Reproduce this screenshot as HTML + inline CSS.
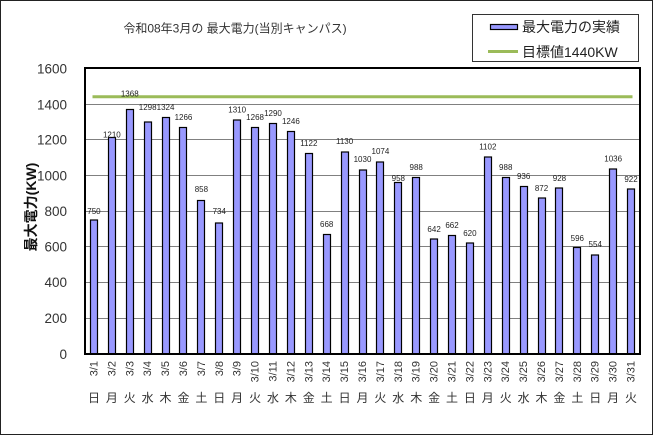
<!DOCTYPE html>
<html><head><meta charset="utf-8"><style>
html,body{margin:0;padding:0;background:#fff;}
svg{display:block;}
text{font-family:"Liberation Sans","Noto Sans CJK JP",sans-serif;}
</style></head><body>
<svg width="654" height="436" viewBox="0 0 654 436" xmlns="http://www.w3.org/2000/svg">
<rect x="0" y="0" width="654" height="436" fill="#fff"/>
<rect x="0.5" y="0.5" width="652" height="434" fill="#fff" stroke="#222" stroke-width="1"/>

<!-- title -->
<text x="235" y="32.5" font-size="12" fill="#333" text-anchor="middle">令和08年3月の 最大電力(当別キャンパス)</text>

<!-- legend -->
<rect x="472.5" y="14.5" width="166" height="47" fill="#fff" stroke="#333" stroke-width="1"/>
<rect x="490.5" y="24.5" width="27" height="5" fill="#9999ff" stroke="#000" stroke-width="1.2"/>
<text x="522" y="32" font-size="14" fill="#222">最大電力の実績</text>
<line x1="488" y1="51.5" x2="518" y2="51.5" stroke="#9bbb59" stroke-width="3"/>
<text x="522" y="57" font-size="14" fill="#222">目標値1440KW</text>

<!-- gridlines -->
<g stroke="#808080" stroke-width="1">
<line x1="85" y1="104.5" x2="640" y2="104.5"/>
<line x1="85" y1="139.5" x2="640" y2="139.5"/>
<line x1="85" y1="175.5" x2="640" y2="175.5"/>
<line x1="85" y1="211.5" x2="640" y2="211.5"/>
<line x1="85" y1="246.5" x2="640" y2="246.5"/>
<line x1="85" y1="282.5" x2="640" y2="282.5"/>
<line x1="85" y1="318.5" x2="640" y2="318.5"/>
</g>

<!-- y tick labels -->
<g font-size="13.5" fill="#333" text-anchor="end">
<text x="67" y="73.5">1600</text>
<text x="67" y="109.5">1400</text>
<text x="67" y="144.5">1200</text>
<text x="67" y="180.5">1000</text>
<text x="67" y="216">800</text>
<text x="67" y="251.5">600</text>
<text x="67" y="287">400</text>
<text x="67" y="323">200</text>
<text x="67" y="359">0</text>
</g>

<!-- y axis title -->
<text transform="translate(36,207) rotate(-90)" font-size="14" font-weight="bold" fill="#111" text-anchor="middle">最大電力(KW)</text>

<!-- bars -->
<g fill="#9999ff" stroke="#000" stroke-width="1.2">
<rect x="90.5" y="220" width="7" height="134"/>
<rect x="108.5" y="137.5" width="7" height="216.5"/>
<rect x="126.5" y="109.5" width="7" height="244.5"/>
<rect x="144.5" y="122" width="7" height="232"/>
<rect x="162.5" y="117.5" width="7" height="236.5"/>
<rect x="179.5" y="127.5" width="7" height="226.5"/>
<rect x="197.5" y="200.5" width="7" height="153.5"/>
<rect x="215.5" y="223" width="7" height="131"/>
<rect x="233.5" y="120" width="7" height="234"/>
<rect x="251.5" y="127.5" width="7" height="226.5"/>
<rect x="269.5" y="123.5" width="7" height="230.5"/>
<rect x="287.5" y="131.5" width="7" height="222.5"/>
<rect x="305.5" y="153.5" width="7" height="200.5"/>
<rect x="323.5" y="234.5" width="7" height="119.5"/>
<rect x="341.5" y="152" width="7" height="202"/>
<rect x="359.5" y="170" width="7" height="184"/>
<rect x="376.5" y="162" width="7" height="192"/>
<rect x="394.5" y="182.5" width="7" height="171.5"/>
<rect x="412.5" y="177.5" width="7" height="176.5"/>
<rect x="430.5" y="239" width="7" height="115"/>
<rect x="448.5" y="235.5" width="7" height="118.5"/>
<rect x="466.5" y="243" width="7" height="111"/>
<rect x="484.5" y="157" width="7" height="197"/>
<rect x="502.5" y="177.5" width="7" height="176.5"/>
<rect x="520.5" y="186.5" width="7" height="167.5"/>
<rect x="538.5" y="198" width="7" height="156"/>
<rect x="555.5" y="188" width="7" height="166"/>
<rect x="573.5" y="247.5" width="7" height="106.5"/>
<rect x="591.5" y="255" width="7" height="99"/>
<rect x="609.5" y="169" width="7" height="185"/>
<rect x="627.5" y="189" width="7" height="165"/>
</g>

<!-- target line -->
<line x1="92.5" y1="96.8" x2="632.5" y2="96.8" stroke="#9bbb59" stroke-width="3"/>

<!-- plot border -->
<rect x="85" y="68" width="555" height="286" fill="none" stroke="#000" stroke-width="2"/>

<!-- data labels -->
<g font-size="8" fill="#222" text-anchor="middle">
<text x="93.95" y="214">750</text>
<text x="111.85" y="137.5">1210</text>
<text x="129.76" y="96.5">1368</text>
<text x="147.66" y="110">1298</text>
<text x="165.56" y="110">1324</text>
<text x="183.47" y="120">1266</text>
<text x="201.37" y="192">858</text>
<text x="219.27" y="214">734</text>
<text x="237.18" y="112.5">1310</text>
<text x="255.08" y="120">1268</text>
<text x="272.98" y="116">1290</text>
<text x="290.89" y="124">1246</text>
<text x="308.79" y="146">1122</text>
<text x="326.69" y="227">668</text>
<text x="344.60" y="144">1130</text>
<text x="362.50" y="162">1030</text>
<text x="380.40" y="154">1074</text>
<text x="398.31" y="181">958</text>
<text x="416.21" y="170">988</text>
<text x="434.11" y="232">642</text>
<text x="452.02" y="228">662</text>
<text x="469.92" y="236">620</text>
<text x="487.82" y="149.5">1102</text>
<text x="505.73" y="170">988</text>
<text x="523.63" y="179">936</text>
<text x="541.53" y="191">872</text>
<text x="559.44" y="181">928</text>
<text x="577.34" y="241">596</text>
<text x="595.24" y="247">554</text>
<text x="613.15" y="161.5">1036</text>
<text x="631.05" y="182">922</text>
</g>

<!-- x labels (dates) -->
<g font-size="11" fill="#333" text-anchor="end">
<text transform="translate(97.5,361) rotate(-90)">3/1</text>
<text transform="translate(115.4,361) rotate(-90)">3/2</text>
<text transform="translate(133.3,361) rotate(-90)">3/3</text>
<text transform="translate(151.2,361) rotate(-90)">3/4</text>
<text transform="translate(169.1,361) rotate(-90)">3/5</text>
<text transform="translate(187,361) rotate(-90)">3/6</text>
<text transform="translate(204.9,361) rotate(-90)">3/7</text>
<text transform="translate(222.8,361) rotate(-90)">3/8</text>
<text transform="translate(240.7,361) rotate(-90)">3/9</text>
<text transform="translate(258.6,361) rotate(-90)">3/10</text>
<text transform="translate(276.5,361) rotate(-90)">3/11</text>
<text transform="translate(294.4,361) rotate(-90)">3/12</text>
<text transform="translate(312.3,361) rotate(-90)">3/13</text>
<text transform="translate(330.2,361) rotate(-90)">3/14</text>
<text transform="translate(348.1,361) rotate(-90)">3/15</text>
<text transform="translate(366,361) rotate(-90)">3/16</text>
<text transform="translate(383.9,361) rotate(-90)">3/17</text>
<text transform="translate(401.8,361) rotate(-90)">3/18</text>
<text transform="translate(419.7,361) rotate(-90)">3/19</text>
<text transform="translate(437.6,361) rotate(-90)">3/20</text>
<text transform="translate(455.5,361) rotate(-90)">3/21</text>
<text transform="translate(473.4,361) rotate(-90)">3/22</text>
<text transform="translate(491.3,361) rotate(-90)">3/23</text>
<text transform="translate(509.2,361) rotate(-90)">3/24</text>
<text transform="translate(527.1,361) rotate(-90)">3/25</text>
<text transform="translate(545,361) rotate(-90)">3/26</text>
<text transform="translate(562.9,361) rotate(-90)">3/27</text>
<text transform="translate(580.8,361) rotate(-90)">3/28</text>
<text transform="translate(598.7,361) rotate(-90)">3/29</text>
<text transform="translate(616.6,361) rotate(-90)">3/30</text>
<text transform="translate(634.5,361) rotate(-90)">3/31</text>
</g>

<!-- x labels (weekday) -->
<g font-size="12" fill="#333" text-anchor="middle">
<text x="93.95" y="402">日</text>
<text x="111.85" y="402">月</text>
<text x="129.76" y="402">火</text>
<text x="147.66" y="402">水</text>
<text x="165.56" y="402">木</text>
<text x="183.47" y="402">金</text>
<text x="201.37" y="402">土</text>
<text x="219.27" y="402">日</text>
<text x="237.18" y="402">月</text>
<text x="255.08" y="402">火</text>
<text x="272.98" y="402">水</text>
<text x="290.89" y="402">木</text>
<text x="308.79" y="402">金</text>
<text x="326.69" y="402">土</text>
<text x="344.60" y="402">日</text>
<text x="362.50" y="402">月</text>
<text x="380.40" y="402">火</text>
<text x="398.31" y="402">水</text>
<text x="416.21" y="402">木</text>
<text x="434.11" y="402">金</text>
<text x="452.02" y="402">土</text>
<text x="469.92" y="402">日</text>
<text x="487.82" y="402">月</text>
<text x="505.73" y="402">火</text>
<text x="523.63" y="402">水</text>
<text x="541.53" y="402">木</text>
<text x="559.44" y="402">金</text>
<text x="577.34" y="402">土</text>
<text x="595.24" y="402">日</text>
<text x="613.15" y="402">月</text>
<text x="631.05" y="402">火</text>
</g>
</svg>
</body></html>
